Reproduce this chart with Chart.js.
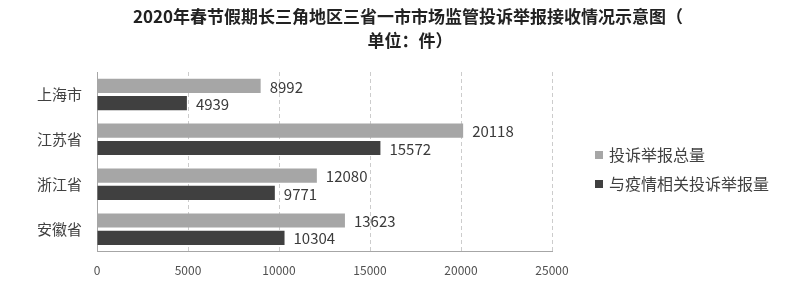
<!DOCTYPE html>
<html>
<head>
<meta charset="utf-8">
<script src="https://cdn.jsdelivr.net/npm/chart.js@4/dist/chart.umd.min.js"></script>
<style>
  html, body { margin: 0; padding: 0; background: #fff; }
  #wrap { width: 800px; height: 294px; }
</style>
</head>
<body>
<div id="wrap"><canvas id="complaintChart"></canvas></div>
<script>
// ─── Data ────────────────────────────────────────────────────────────────
const regions    = ['上海市', '江苏省', '浙江省', '安徽省'];
const totalCount = [8992, 20118, 12080, 13623];
const covidCount = [4939, 15572, 9771, 10304];
const seriesNames = ['投诉举报总量', '与疫情相关投诉举报量'];
const titleLines = ['2020年春节假期长三角地区三省一市市场监管投诉举报接收情况示意图（', '单位：件）'];

const FONT = '"Noto Sans CJK SC", "Noto Sans", sans-serif';

// ─── Title (centred on the page, not on the plot) ───────────────────────
const pageTitle = {
    id: 'pageTitle',
    afterDraw: function (chart) {
        const ctx = chart.ctx;
        ctx.save();
        ctx.font = 'bold 17px ' + FONT;
        ctx.fillStyle = '#222';
        ctx.textAlign = 'center';
        ctx.textBaseline = 'middle';
        ctx.fillText(titleLines[0], 408, 17);
        ctx.fillText(titleLines[1], 410, 41);
        ctx.restore();
    }
};

// ─── Legend at the right of the plot ────────────────────────────────────
const sideLegend = {
    id: 'sideLegend',
    afterDraw: function (chart) {
        const ctx = chart.ctx;
        const x = chart.chartArea.right + 43;
        ctx.save();
        ctx.font = '16px ' + FONT;
        ctx.textAlign = 'left';
        ctx.textBaseline = 'middle';
        chart.data.datasets.forEach(function (ds, i) {
            const y = 155 + i * 29;
            ctx.fillStyle = ds.backgroundColor;
            ctx.fillRect(x, y - 4, 8, 8);
            ctx.fillStyle = '#404040';
            ctx.fillText(ds.label, x + 14, y);
        });
        ctx.restore();
    }
};

// ─── Value labels at the end of each bar ────────────────────────────────
const barValueLabels = {
    id: 'barValueLabels',
    afterDatasetsDraw: function (chart) {
        const ctx = chart.ctx;
        ctx.save();
        ctx.font = '15px ' + FONT;
        ctx.fillStyle = '#3a3a3a';
        ctx.textAlign = 'left';
        ctx.textBaseline = 'middle';
        chart.data.datasets.forEach(function (ds, i) {
            const meta = chart.getDatasetMeta(i);
            meta.data.forEach(function (bar, j) {
                ctx.fillText(String(ds.data[j]), bar.x + 9, bar.y + 1);
            });
        });
        ctx.restore();
    }
};

new Chart(document.getElementById('complaintChart'), {
    type: 'bar',
    data: {
        labels: regions,
        datasets: [
            {
                label: seriesNames[0],
                data: totalCount,
                backgroundColor: '#a6a6a6',
                categoryPercentage: 0.77,
                barPercentage: 0.82,
            },
            {
                label: seriesNames[1],
                data: covidCount,
                backgroundColor: '#404040',
                categoryPercentage: 0.77,
                barPercentage: 0.82,
            }
        ]
    },
    options: {
        indexAxis: 'y',
        responsive: true,
        maintainAspectRatio: false,
        animation: false,
        layout: { padding: { left: 22, right: 248, top: 72, bottom: 4 } },
        plugins: {
            title: { display: false },
            legend: { display: false },
            tooltip: { enabled: false }
        },
        scales: {
            x: {
                min: 0,
                max: 25000,
                ticks: {
                    stepSize: 5000,
                    color: '#505050',
                    padding: 12,
                    font: { family: FONT, size: 12 },
                    callback: function (v) { return String(v); }
                },
                grid: { color: '#cccccc', drawTicks: false },
                border: { display: true, color: '#a6a6a6', dash: [4, 3] }
            },
            y: {
                ticks: {
                    color: '#404040',
                    padding: 15,
                    font: { family: FONT, size: 15 }
                },
                grid: { display: false, drawTicks: false },
                border: { display: true, color: '#a6a6a6' }
            }
        }
    },
    plugins: [barValueLabels, pageTitle, sideLegend]
});
</script>
</body>
</html>
